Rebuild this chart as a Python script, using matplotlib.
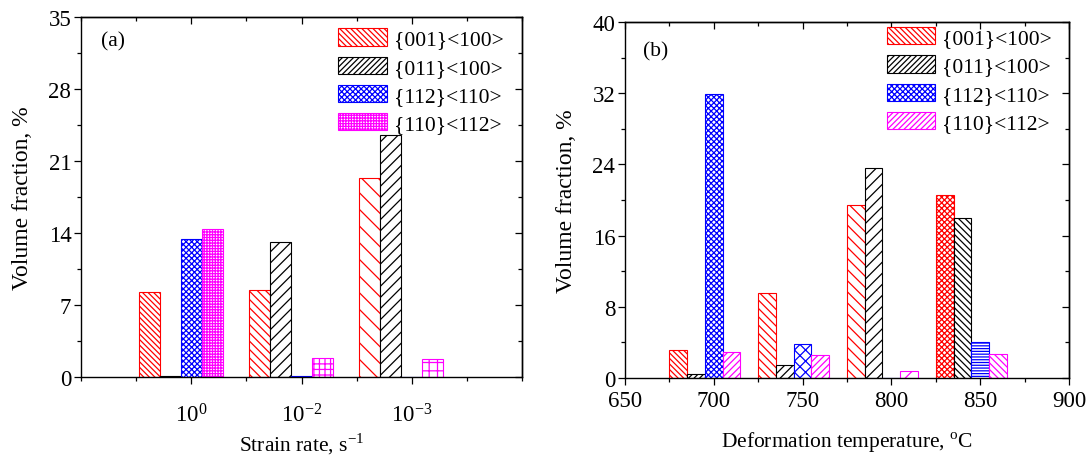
import matplotlib
matplotlib.use("Agg")
import matplotlib.pyplot as plt
from matplotlib.patches import Patch
from matplotlib.ticker import MultipleLocator, FixedLocator
import numpy as np

# ---------------- data ----------------
series = ["{001}<100>", "{011}<100>", "{112}<110>", "{110}<112>"]

# panel (a): strain rate
rate_labels = [r"$\mathregular{10^{0}}$", r"$\mathregular{10^{-2}}$", r"$\mathregular{10^{-3}}$"]
rate_pos = [1, 2, 3]
a_001 = [8.3, 8.5, 19.3]
a_011 = [0.1, 13.1, 23.5]
a_112 = [13.4, 0.1, 0.0]
a_110 = [14.4, 1.8, 1.7]

# panel (b): deformation temperature
temps = [700, 750, 800, 850]
b_001 = [3.2, 9.5, 19.4, 20.6]
b_011 = [0.4, 1.5, 23.6, 18.0]
b_112 = [31.9, 3.8, 0.0, 4.0]
b_110 = [2.9, 2.6, 0.8, 2.7]

# ---------------- style ----------------
colors = ["#FF0000", "#000000", "#0000FF", "#FF00FF"]
a_hatch = [["\\\\\\\\\\\\", "\\\\\\\\", "\\\\"],
           ["/////", "///", "///"],
           ["xxxxxx", "xxxxxx", "xxxxxx"],
           ["++++++", "+++", "++"]]
b_hatch = [["\\\\\\\\\\\\", "\\\\\\\\", "\\\\\\", "xxxxxx"],
           ["//////", "////", "///", "\\\\\\\\\\"],
           ["xxxxxx", "xxx", "xxx", "------"],
           ["/////", "/////", "//", "\\\\\\\\\\"]]
a_leg_hatch = ["\\\\\\\\\\\\", "//////", "xxxxxx", "++++++"]
b_leg_hatch = ["\\\\\\\\\\\\", "//////", "xxxxxx", "//////"]

plt.rcParams["font.family"] = ["Liberation Serif", "DejaVu Serif"]
plt.rcParams["mathtext.fontset"] = "custom"
plt.rcParams["mathtext.rm"] = "Liberation Serif"
plt.rcParams["hatch.linewidth"] = 0.9
plt.rcParams["axes.linewidth"] = 1.0

fig = plt.figure(figsize=(10.89, 4.56), dpi=100)
axA = fig.add_axes([0.0744, 0.1711, 0.405, 0.7895])
axB = fig.add_axes([0.5739, 0.1689, 0.4077, 0.7807])

FS = 15.5
TFS = 16.5
LFS = 17


def style_axes(ax):
    ax.tick_params(which="both", direction="out", top=False, right=False)
    ax.tick_params(which="major", length=5, width=0.9)
    ax.tick_params(which="minor", length=3, width=0.9)
    ax2 = ax.secondary_xaxis("top")
    ax3 = ax.secondary_yaxis("right")
    for s in (ax2, ax3):
        s.tick_params(which="both", direction="in", width=0.9)
        s.tick_params(which="major", length=5)
        s.tick_params(which="minor", length=3)
    ax2.set_xticklabels([])
    ax3.set_yticklabels([])
    return ax2, ax3


# ---------- panel (a) ----------
wa = 0.19
vals_a = [a_001, a_011, a_112, a_110]
for i, (v, c) in enumerate(zip(vals_a, colors)):
    x = np.array(rate_pos) + (i - 2) * wa
    for j in range(len(x)):
        axA.bar(x[j], v[j], width=wa, color="white", edgecolor=c,
                hatch=a_hatch[i][j], linewidth=0.8, align="center")
axA.set_xlim(0, 4)
axA.set_ylim(0, 35)
axA.yaxis.set_major_locator(MultipleLocator(7))
axA.yaxis.set_minor_locator(MultipleLocator(3.5))
axA.xaxis.set_major_locator(FixedLocator(rate_pos))
axA.xaxis.set_minor_locator(MultipleLocator(0.5))
axA.set_xticklabels(rate_labels)
t2, t3 = style_axes(axA)
t2.xaxis.set_major_locator(FixedLocator(rate_pos))
t2.xaxis.set_minor_locator(MultipleLocator(0.5))
t3.yaxis.set_major_locator(MultipleLocator(7))
t3.yaxis.set_minor_locator(MultipleLocator(3.5))
axA.tick_params(axis="x", labelsize=TFS, pad=14)
axA.tick_params(axis="y", labelsize=TFS, pad=2)
axA.set_xlabel(r"Strain rate, s$^{\mathregular{-1}}$", fontsize=FS, va="baseline")
axA.set_ylabel("Volume fraction, %", fontsize=LFS)
axA.xaxis.set_label_coords(0.5, -0.204)
axA.yaxis.set_label_coords(-0.11, 0.5)
axA.text(0.045, 0.935, "(a)", transform=axA.transAxes, fontsize=FS, va="center")
ha = [Patch(facecolor="white", edgecolor=c, hatch=h, linewidth=0.8)
      for c, h in zip(colors, a_leg_hatch)]
axA.legend(ha, series, loc="upper left", bbox_to_anchor=(0.583, 0.968),
           frameon=False, fontsize=FS, handlelength=2.25, handleheight=0.85,
           labelspacing=0.33, handletextpad=0.33, borderpad=0, borderaxespad=0)

# ---------- panel (b) ----------
wb = 10
vals_b = [b_001, b_011, b_112, b_110]
for i, (v, c) in enumerate(zip(vals_b, colors)):
    x = np.array(temps) + (i - 2) * wb
    for j in range(len(x)):
        axB.bar(x[j], v[j], width=wb, color="white", edgecolor=c,
                hatch=b_hatch[i][j], linewidth=0.8, align="center")
axB.set_xlim(650, 900)
axB.set_ylim(0, 40)
axB.xaxis.set_major_locator(MultipleLocator(50))
axB.xaxis.set_minor_locator(MultipleLocator(25))
axB.yaxis.set_major_locator(MultipleLocator(8))
axB.yaxis.set_minor_locator(MultipleLocator(4))
t2, t3 = style_axes(axB)
t2.xaxis.set_major_locator(MultipleLocator(50))
t2.xaxis.set_minor_locator(MultipleLocator(25))
t3.yaxis.set_major_locator(MultipleLocator(8))
t3.yaxis.set_minor_locator(MultipleLocator(4))
axB.tick_params(axis="x", labelsize=TFS, pad=4)
axB.tick_params(axis="y", labelsize=TFS, pad=2)
axB.set_xlabel(r"Deformation temperature, $^{\mathregular{o}}$C", fontsize=FS, va="baseline")
axB.set_ylabel("Volume fraction, %", fontsize=LFS)
axB.xaxis.set_label_coords(0.5, -0.194)
axB.yaxis.set_label_coords(-0.108, 0.5)
axB.text(0.04, 0.92, "(b)", transform=axB.transAxes, fontsize=FS, va="center")
hb = [Patch(facecolor="white", edgecolor=c, hatch=h, linewidth=0.8)
      for c, h in zip(colors, b_leg_hatch)]
axB.legend(hb, series, loc="upper left", bbox_to_anchor=(0.59, 0.985),
           frameon=False, fontsize=FS, handlelength=2.25, handleheight=0.85,
           labelspacing=0.33, handletextpad=0.33, borderpad=0, borderaxespad=0)

fig.savefig("out.png", dpi=100)
